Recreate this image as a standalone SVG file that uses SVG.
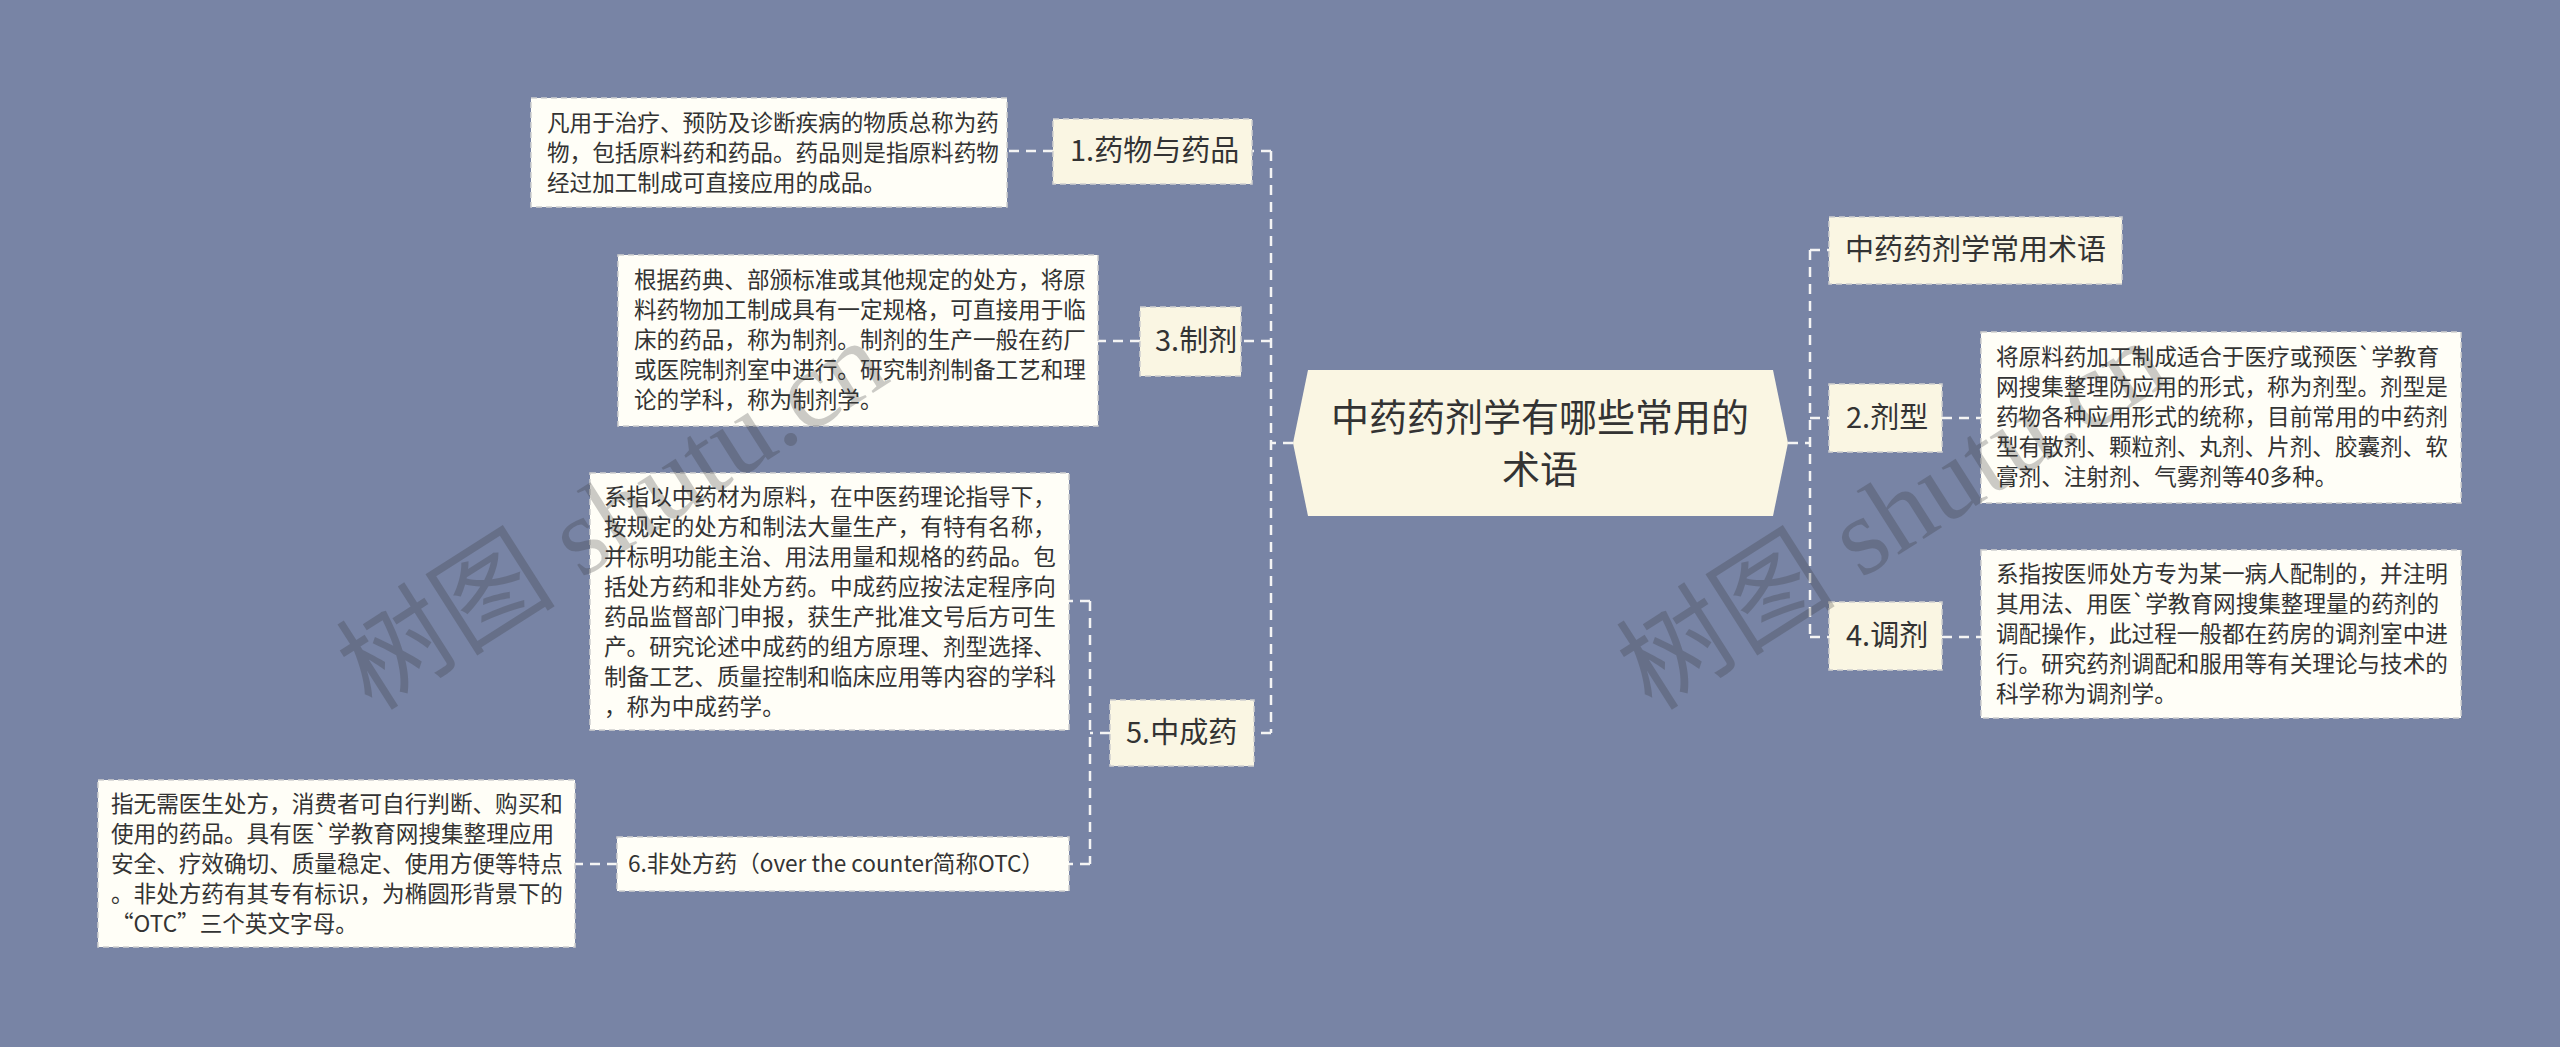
<svg xmlns="http://www.w3.org/2000/svg" width="2560" height="1047" viewBox="0 0 2560 1047">
<style>
.bg{fill:#7884A5}
.topic{fill:#FAF6E3;stroke:#CFCFCF;stroke-width:1.5;stroke-dasharray:6 4}
.desc{fill:#FFFEF7;stroke:#CFCFCF;stroke-width:1.5;stroke-dasharray:6 4}
.root{fill:#FAF6E3}
.link{fill:none;stroke:#F4F4F4;stroke-width:2.5;stroke-dasharray:10 7}
.t{font-family:"Noto Sans CJK SC","Noto Sans",sans-serif;fill:#333333}
.dt{font-size:22.6px}
.tt{font-size:29px}
.rt{font-size:38px;text-anchor:middle}
.wm{font-family:"Liberation Serif","Noto Sans CJK SC",serif;font-size:110px;fill:#333333;opacity:0.25}
</style>
<rect class="bg" x="0" y="0" width="2560" height="1047"/>
<g id="connectors">
<path class="link" d="M1293,443 H1271 M1271,151 V733 M1271,151 H1252 M1271,341 H1241 M1271,733 H1254"/>
<path class="link" d="M1053,151 H1007"/>
<path class="link" d="M1140,341 H1098"/>
<path class="link" d="M1110,733 H1090 M1090,601 V864 M1090,601 H1069 M1090,864 H1069"/>
<path class="link" d="M617,864 H575"/>
<path class="link" d="M1788,443 H1810 M1810,250 V637 M1810,250 H1829 M1810,418 H1829 M1810,637 H1829"/>
<path class="link" d="M1942,418 H1981"/>
<path class="link" d="M1942,637 H1981"/>
</g>
<g id="root">
<polygon class="root" points="1308,370 1773,370 1788,443 1773,516 1308,516 1293,443"/>
<text class="t rt" x="1540" y="431">中药药剂学有哪些常用的</text>
<text class="t rt" x="1540" y="483">术语</text>
</g>
<g id="n1">
<rect class="topic" x="1053" y="119" width="199" height="65"/>
<text class="t tt" x="1070" y="161">1.药物与药品</text>
</g>
<g id="d1">
<rect class="desc" x="531" y="98" width="476" height="109"/>
<text class="t dt" x="547" y="130.5">凡用于治疗、预防及诊断疾病的物质总称为药</text>
<text class="t dt" x="547" y="160.5">物，包括原料药和药品。药品则是指原料药物</text>
<text class="t dt" x="547" y="190.5">经过加工制成可直接应用的成品。</text>
</g>
<g id="n3">
<rect class="topic" x="1140" y="307" width="101" height="69"/>
<text class="t tt" x="1155" y="351">3.制剂</text>
</g>
<g id="d3">
<rect class="desc" x="618" y="255" width="480" height="171"/>
<text class="t dt" x="634" y="288">根据药典、部颁标准或其他规定的处方，将原</text>
<text class="t dt" x="634" y="318">料药物加工制成具有一定规格，可直接用于临</text>
<text class="t dt" x="634" y="348">床的药品，称为制剂。制剂的生产一般在药厂</text>
<text class="t dt" x="634" y="378">或医院制剂室中进行。研究制剂制备工艺和理</text>
<text class="t dt" x="634" y="408">论的学科，称为制剂学。</text>
</g>
<g id="n5">
<rect class="topic" x="1110" y="700" width="144" height="66"/>
<text class="t tt" x="1126" y="743">5.中成药</text>
</g>
<g id="d5">
<rect class="desc" x="590" y="473" width="479" height="257"/>
<text class="t dt" x="604" y="504.5">系指以中药材为原料，在中医药理论指导下，</text>
<text class="t dt" x="604" y="534.5">按规定的处方和制法大量生产，有特有名称，</text>
<text class="t dt" x="604" y="564.5">并标明功能主治、用法用量和规格的药品。包</text>
<text class="t dt" x="604" y="594.5">括处方药和非处方药。中成药应按法定程序向</text>
<text class="t dt" x="604" y="624.5">药品监督部门申报，获生产批准文号后方可生</text>
<text class="t dt" x="604" y="654.5">产。研究论述中成药的组方原理、剂型选择、</text>
<text class="t dt" x="604" y="684.5">制备工艺、质量控制和临床应用等内容的学科</text>
<text class="t dt" x="604" y="714.5">，称为中成药学。</text>
</g>
<g id="n6">
<rect class="desc" x="617" y="837" width="452" height="54"/>
<text class="t dt" x="628" y="872">6.非处方药（over the counter简称OTC）</text>
</g>
<g id="d6">
<rect class="desc" x="98" y="780" width="477" height="167"/>
<text class="t dt" x="111" y="811.5">指无需医生处方，消费者可自行判断、购买和</text>
<text class="t dt" x="111" y="841.5">使用的药品。具有医`学教育网搜集整理应用</text>
<text class="t dt" x="111" y="871.5">安全、疗效确切、质量稳定、使用方便等特点</text>
<text class="t dt" x="111" y="901.5">。非处方药有其专有标识，为椭圆形背景下的</text>
<text class="t dt" x="111" y="931.5">“OTC”三个英文字母。</text>
</g>
<g id="n0">
<rect class="topic" x="1829" y="217" width="293" height="67"/>
<text class="t tt" x="1845" y="260">中药药剂学常用术语</text>
</g>
<g id="n2">
<rect class="topic" x="1829" y="384" width="113" height="68"/>
<text class="t tt" x="1846" y="428">2.剂型</text>
</g>
<g id="d2">
<rect class="desc" x="1981" y="332" width="480" height="171"/>
<text class="t dt" x="1996" y="365">将原料药加工制成适合于医疗或预医`学教育</text>
<text class="t dt" x="1996" y="395">网搜集整理防应用的形式，称为剂型。剂型是</text>
<text class="t dt" x="1996" y="425">药物各种应用形式的统称，目前常用的中药剂</text>
<text class="t dt" x="1996" y="455">型有散剂、颗粒剂、丸剂、片剂、胶囊剂、软</text>
<text class="t dt" x="1996" y="485">膏剂、注射剂、气雾剂等40多种。</text>
</g>
<g id="n4">
<rect class="topic" x="1829" y="602" width="113" height="68"/>
<text class="t tt" x="1846" y="646">4.调剂</text>
</g>
<g id="d4">
<rect class="desc" x="1981" y="550" width="480" height="168"/>
<text class="t dt" x="1996" y="582">系指按医师处方专为某一病人配制的，并注明</text>
<text class="t dt" x="1996" y="612">其用法、用医`学教育网搜集整理量的药剂的</text>
<text class="t dt" x="1996" y="642">调配操作，此过程一般都在药房的调剂室中进</text>
<text class="t dt" x="1996" y="672">行。研究药剂调配和服用等有关理论与技术的</text>
<text class="t dt" x="1996" y="702">科学称为调剂学。</text>
</g>
<text class="wm" transform="translate(372,712) rotate(-32.5)">树图 shutu.cn</text>
<text class="wm" transform="translate(1652,712) rotate(-32.5)">树图 shutu.cn</text>
</svg>
